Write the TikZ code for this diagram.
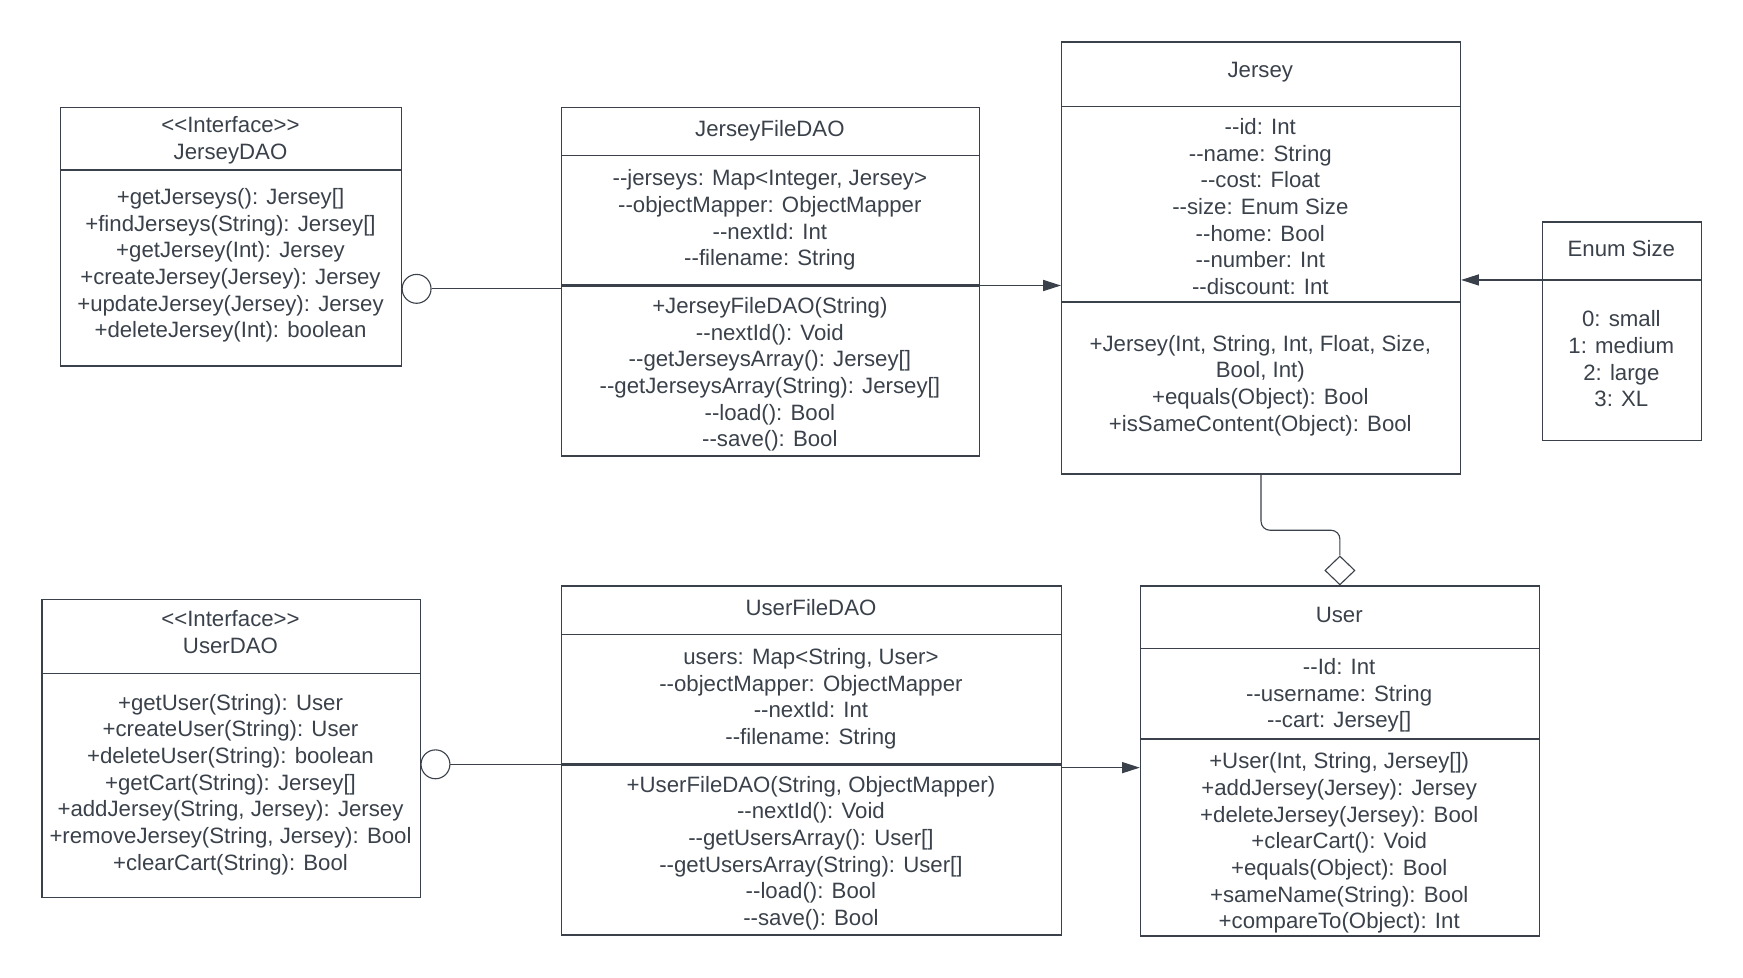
\documentclass[tikz,border=0pt]{standalone}
\usepackage{fontspec}
\setmainfont{Liberation Sans}[Ligatures=TeXOff]
\usetikzlibrary{arrows.meta,shapes.geometric}
\definecolor{lc}{HTML}{3A414A}
\begin{document}
\begin{tikzpicture}[x=0.5pt,y=-0.5pt,
  box/.style={draw=lc, line width=0.65pt, inner sep=0pt, anchor=north west},
  div/.style={draw=lc, line width=0.6pt},
  divb/.style={draw=lc, line width=1.1pt},
  txt/.style={font=\fontsize{10}{12}\selectfont, align=center, inner sep=0pt, anchor=north, text=lc},
  conn/.style={draw=lc, line width=0.5pt},
  arr/.style={-{Triangle[length=8pt,width=5pt]}},
  lolli/.style={circle, draw=lc, line width=0.5pt, minimum size=13pt, inner sep=0pt}]
\useasboundingbox (0,0) rectangle (1569,879.5);

% class boxes
\node[box, minimum width=153.5pt, minimum height=116.5pt] (jdao) at (54,96) {};
\node[box, minimum width=188pt, minimum height=157pt] (jfdao) at (505,96) {};
\node[box, minimum width=179.5pt, minimum height=194.5pt] (jersey) at (955,37) {};
\node[box, minimum width=71.5pt, minimum height=98.5pt] (enum) at (1388,199) {};
\node[box, minimum width=170.5pt, minimum height=134pt] (udao) at (37,539) {};
\node[box, minimum width=225pt, minimum height=157pt] (ufdao) at (505,527) {};
\node[box, minimum width=179.5pt, minimum height=157.5pt] (user) at (1026,527) {};

% compartment dividers
\draw[div] (jdao.west |- 0,153) -- (jdao.east |- 0,153);
\draw[div] (jfdao.west |- 0,140) -- (jfdao.east |- 0,140);
\draw[divb] (jfdao.west |- 0,257) -- (jfdao.east |- 0,257);
\draw[div] (jersey.west |- 0,96) -- (jersey.east |- 0,96);
\draw[divb] (jersey.west |- 0,272) -- (jersey.east |- 0,272);
\draw[div] (enum.west |- 0,252) -- (enum.east |- 0,252);
\draw[div] (udao.west |- 0,606) -- (udao.east |- 0,606);
\draw[div] (ufdao.west |- 0,571) -- (ufdao.east |- 0,571);
\draw[divb] (ufdao.west |- 0,688) -- (ufdao.east |- 0,688);
\draw[div] (user.west |- 0,584) -- (user.east |- 0,584);
\draw[divb] (user.west |- 0,665) -- (user.east |- 0,665);

% texts
\node[txt] (jdaoH) at (207.5,102) {\strut<<Interface>>\\JerseyDAO};
\node[txt] (jdaoM) at (207.5,167) {\strut+getJerseys(): Jersey[]\\+findJerseys(String): Jersey[]\\+getJersey(Int): Jersey\\+createJersey(Jersey): Jersey\\+updateJersey(Jersey): Jersey\\+deleteJersey(Int): boolean};

\node[txt] (jfdaoH) at (693,106) {\strut JerseyFileDAO};
\node[txt] (jfdaoA) at (693,150) {\strut--jerseys: Map<Integer, Jersey>\\--objectMapper: ObjectMapper\\--nextId: Int\\--filename: String};
\node[txt] (jfdaoM) at (693,265) {\strut+JerseyFileDAO(String)\\--nextId(): Void\\--getJerseysArray(): Jersey[]\\--getJerseysArray(String): Jersey[]\\--load(): Bool\\--save(): Bool};

\node[txt] (jerseyH) at (1134.5,53) {\strut Jersey};
\node[txt] (jerseyA) at (1134.5,104) {\strut--id: Int\\--name: String\\--cost: Float\\--size: Enum Size\\--home: Bool\\--number: Int\\--discount: Int};
\node[txt] (jerseyM) at (1134.5,299) {\strut+Jersey(Int, String, Int, Float, Size,\\Bool, Int)\\+equals(Object): Bool\\+isSameContent(Object): Bool};

\node[txt] (enumH) at (1459.5,214) {\strut Enum Size};
\node[txt] (enumB) at (1459.5,277) {\strut 0: small\\1: medium\\2: large\\3: XL};

\node[txt] (udaoH) at (207.5,547) {\strut<<Interface>>\\UserDAO};
\node[txt] (udaoM) at (207.5,622) {\strut+getUser(String): User\\+createUser(String): User\\+deleteUser(String): boolean\\+getCart(String): Jersey[]\\+addJersey(String, Jersey): Jersey\\+removeJersey(String, Jersey): Bool\\+clearCart(String): Bool};

\node[txt] (ufdaoH) at (730,537) {\strut UserFileDAO};
\node[txt] (ufdaoA) at (730,581) {\strut users: Map<String, User>\\--objectMapper: ObjectMapper\\--nextId: Int\\--filename: String};
\node[txt] (ufdaoM) at (730,696) {\strut+UserFileDAO(String, ObjectMapper)\\--nextId(): Void\\--getUsersArray(): User[]\\--getUsersArray(String): User[]\\--load(): Bool\\--save(): Bool};

\node[txt] (userH) at (1205.5,543) {\strut User};
\node[txt] (userA) at (1205.5,590) {\strut--Id: Int\\--username: String\\--cart: Jersey[]};
\node[txt] (userM) at (1205.5,675) {\strut+User(Int, String, Jersey[])\\+addJersey(Jersey): Jersey\\+deleteJersey(Jersey): Bool\\+clearCart(): Void\\+equals(Object): Bool\\+sameName(String): Bool\\+compareTo(Object): Int};

% connectors
\node[lolli] (lp1) at (375,260) {};
\draw[conn] (lp1.east) -- (lp1.east -| jfdao.west);
\coordinate (a1) at (918,257);
\draw[conn, arr] (jfdao.east |- a1) -- (jersey.west |- a1);
\coordinate (a2) at (1350,252);
\draw[conn, arr] (enum.west |- a2) -- (jersey.east |- a2);
\node[diamond, draw=lc, line width=0.5pt, aspect=1, minimum width=13.5pt, minimum height=13pt, inner sep=0pt, anchor=south, fill=white] (dia) at (user.north) {};
\draw[conn, rounded corners=4pt] (jersey.south) -- ++(0,50) -| (dia.north);
\node[lolli] (lp2) at (392,688) {};
\draw[conn] (lp2.east) -- (lp2.east -| ufdao.west);
\coordinate (a3) at (990,691);
\draw[conn, arr] (ufdao.east |- a3) -- (user.west |- a3);
\end{tikzpicture}
\end{document}
